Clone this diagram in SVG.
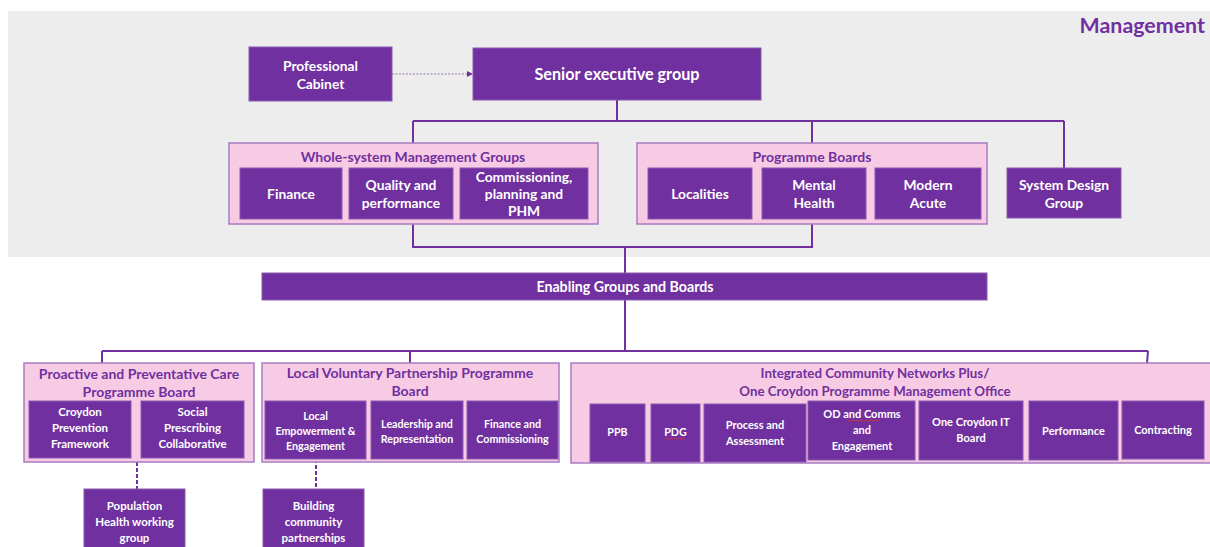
<svg xmlns="http://www.w3.org/2000/svg" width="1210" height="547" viewBox="0 0 1210 547">
<style>
.bg{fill:#ededed}
.box{fill:#7030a0;stroke:#8a5ab0;stroke-width:1}
.grp{fill:#f7cbe3;stroke:#a77cc2;stroke-width:1.5}
.t{font-family:Lato,"Open Sans",sans-serif;font-weight:bold;fill:#ffffff;font-size:11.5px;text-anchor:middle}
.big{font-size:13.8px}
.sm{font-size:10.7px}
.md{font-size:11px}
.gt{font-family:Lato,"Open Sans",sans-serif;font-weight:bold;fill:#7030a0;font-size:14px;text-anchor:middle}
.gs{font-size:13.3px}
.ln{fill:none;stroke:#7030a0;stroke-width:2}
.dash{fill:none;stroke:#7030a0;stroke-width:2;stroke-dasharray:4 2}
.dot{fill:none;stroke:#9a7ab5;stroke-width:1.2;stroke-dasharray:2 1.5}
.sq{fill:none;stroke:#e03030;stroke-width:0.8}
</style>
<defs>
<marker id="ah" markerWidth="6" markerHeight="6" refX="5" refY="3" orient="auto" markerUnits="userSpaceOnUse">
<path d="M0,0 L6,3 L0,6 z" fill="#7030a0"/>
</marker>
</defs>
<rect class="bg" x="8" y="11" width="1202" height="246"/>
<text x="1205" y="33" font-family="Lato,'Open Sans',sans-serif" font-weight="bold" font-size="21.4" fill="#7030a0" text-anchor="end">Management</text>

<g id="connectors">
<path class="dot" d="M392,74 L472,74" marker-end="url(#ah)"/>
<path class="ln" d="M617,100 V121 M413,121 H1064 M413,121 V143 M812,121 V143 M1064,121 V168"/>
<path class="ln" d="M413,224 V247 H812 V224 M625,247 V273"/>
<path class="ln" d="M625,300 V351 M102,351 H1148 M102,351 V363 M410,351 V363 M1148,351 L1147,363"/>
<path class="dash" d="M137,462 V489"/>
<path class="dash" d="M316,459 V489"/>
</g>

<g id="professional-cabinet">
<rect class="box" x="249" y="47" width="143" height="54"/>
<text class="t big" x="320.5" y="71">Professional</text>
<text class="t big" x="320.5" y="89">Cabinet</text>
</g>
<g id="senior-executive-group">
<rect class="box" x="473" y="48" width="288" height="52"/>
<text class="t" x="617" y="80" style="font-size:16.2px">Senior executive group</text>
</g>

<g id="whole-system">
<rect class="grp" x="229" y="143" width="369" height="81"/>
<text class="gt" x="413" y="162">Whole-system Management Groups</text>
<g id="finance">
<rect class="box" x="240" y="168" width="102" height="51"/>
<text class="t big" x="291" y="199">Finance</text>
</g>
<g id="quality">
<rect class="box" x="349" y="168" width="104" height="51"/>
<text class="t big" x="401" y="190">Quality and</text>
<text class="t big" x="401" y="208">performance</text>
</g>
<g id="commissioning">
<rect class="box" x="460" y="168" width="128" height="51"/>
<text class="t big" x="524" y="182">Commissioning,</text>
<text class="t big" x="524" y="199">planning and</text>
<text class="t big" x="524" y="216">PHM</text>
</g>
</g>

<g id="programme-boards">
<rect class="grp" x="637" y="143" width="350" height="81"/>
<text class="gt" x="812" y="162">Programme Boards</text>
<g id="localities">
<rect class="box" x="648" y="168" width="104" height="51"/>
<text class="t big" x="700" y="199">Localities</text>
</g>
<g id="mental-health">
<rect class="box" x="762" y="168" width="104" height="51"/>
<text class="t big" x="814" y="190">Mental</text>
<text class="t big" x="814" y="208">Health</text>
</g>
<g id="modern-acute">
<rect class="box" x="875" y="168" width="106" height="51"/>
<text class="t big" x="928" y="190">Modern</text>
<text class="t big" x="928" y="208">Acute</text>
</g>
</g>

<g id="system-design-group">
<rect class="box" x="1007" y="168" width="114" height="50"/>
<text class="t big" x="1064" y="190">System Design</text>
<text class="t big" x="1064" y="208">Group</text>
</g>

<g id="enabling">
<rect class="box" x="262" y="273" width="725" height="27"/>
<text class="t" x="625" y="292" style="font-size:14.2px">Enabling  Groups and Boards</text>
</g>

<g id="proactive">
<rect class="grp" x="24" y="363" width="230" height="99"/>
<text class="gt" x="139" y="379">Proactive and Preventative Care</text>
<text class="gt" x="139" y="397">Programme Board</text>
<g id="croydon-prevention">
<rect class="box" x="29" y="401" width="102" height="57"/>
<text class="t" x="80" y="416">Croydon</text>
<text class="t" x="80" y="432">Prevention</text>
<text class="t" x="80" y="448">Framework</text>
</g>
<g id="social-prescribing">
<rect class="box" x="141" y="401" width="103" height="57"/>
<text class="t" x="192.5" y="416">Social</text>
<text class="t" x="192.5" y="432">Prescribing</text>
<text class="t" x="192.5" y="448">Collaborative</text>
</g>
</g>

<g id="local-voluntary">
<rect class="grp" x="262" y="363" width="297" height="99"/>
<text class="gt" x="410" y="378">Local Voluntary Partnership Programme</text>
<text class="gt" x="410" y="396">Board</text>
<g id="local-empowerment">
<rect class="box" x="265" y="401" width="101" height="58"/>
<text class="t sm" x="315.5" y="420">Local</text>
<text class="t sm" x="315.5" y="435">Empowerment &amp;</text>
<text class="t sm" x="315.5" y="450">Engagement</text>
</g>
<g id="leadership">
<rect class="box" x="371" y="401" width="92" height="58"/>
<text class="t sm" x="417" y="428">Leadership and</text>
<text class="t sm" x="417" y="443">Representation</text>
</g>
<g id="finance-commissioning">
<rect class="box" x="467" y="401" width="91" height="58"/>
<text class="t sm" x="512.5" y="428">Finance and</text>
<text class="t sm" x="512.5" y="443">Commissioning</text>
</g>
</g>

<g id="icn">
<rect class="grp" x="571" y="363" width="645" height="100"/>
<text class="gt gs" x="875" y="378">Integrated Community Networks Plus/</text>
<text class="gt gs" x="875" y="396">One Croydon Programme Management Office</text>
<g id="ppb">
<rect class="box" x="590" y="404" width="55" height="58"/>
<text class="t sm" x="617.5" y="436">PPB</text>
</g>
<g id="pdg">
<rect class="box" x="651" y="404" width="49" height="58"/>
<text class="t sm" x="675.5" y="436">PDG</text>
<path class="sq" d="M665,439 l2,-1 2,1 2,-1 2,1 2,-1 2,1 2,-1 2,1 2,-1 2,1"/>
</g>
<g id="process-assessment">
<rect class="box" x="704" y="404" width="102" height="58"/>
<text class="t md" x="755" y="429">Process and</text>
<text class="t md" x="755" y="445">Assessment</text>
</g>
<g id="od-comms">
<rect class="box" x="808" y="401" width="107" height="59"/>
<text class="t md" x="862" y="418">OD and  Comms</text>
<text class="t md" x="862" y="434">and</text>
<text class="t md" x="862" y="450">Engagement</text>
<path class="sq" d="M848,421 l2,-1 2,1 2,-1 2,1 2,-1 2,1 2,-1 2,1 2,-1 2,1 2,-1 2,1 2,-1 2,1 2,-1 2,1"/>
</g>
<g id="it-board">
<rect class="box" x="919" y="401" width="104" height="59"/>
<text class="t md" x="971" y="426">One Croydon IT</text>
<text class="t md" x="971" y="442">Board</text>
</g>
<g id="performance">
<rect class="box" x="1029" y="401" width="89" height="59"/>
<text class="t md" x="1073.5" y="435">Performance</text>
</g>
<g id="contracting">
<rect class="box" x="1122" y="401" width="82" height="58"/>
<text class="t md" x="1163" y="434">Contracting</text>
</g>
</g>

<g id="population-health">
<rect class="box" x="84" y="489" width="101" height="62"/>
<text class="t" x="134.5" y="510">Population</text>
<text class="t" x="134.5" y="526">Health working</text>
<text class="t" x="134.5" y="542">group</text>
</g>
<g id="building-community">
<rect class="box" x="263" y="489" width="101" height="62"/>
<text class="t" x="313.5" y="510">Building</text>
<text class="t" x="313.5" y="526">community</text>
<text class="t" x="313.5" y="542">partnerships</text>
</g>
</svg>
